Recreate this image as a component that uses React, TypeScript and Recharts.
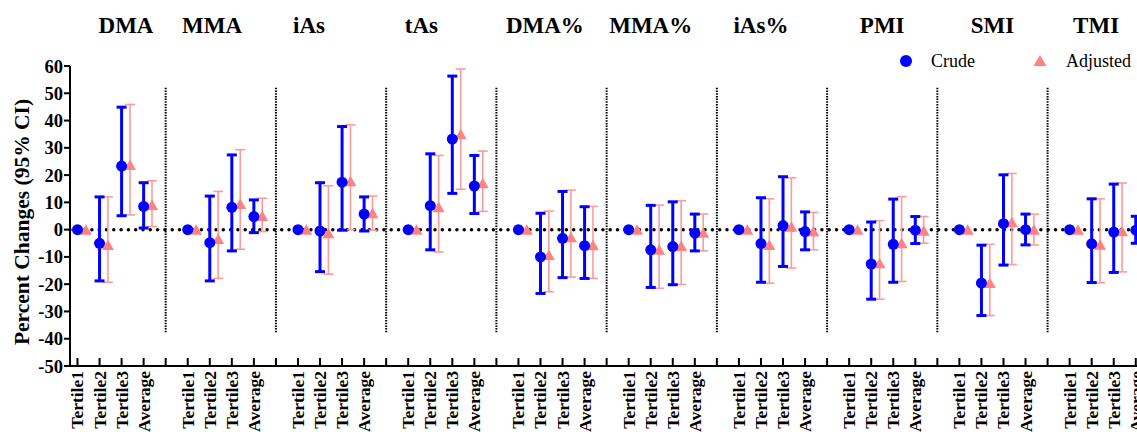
import {
  ComposedChart,
  ErrorBar,
  ReferenceDot,
  ReferenceLine,
  Scatter,
  XAxis,
  YAxis,
} from "recharts";

const groups = ["DMA", "MMA", "iAs", "tAs", "DMA%", "MMA%", "iAs%", "PMI", "SMI", "TMI"];
const levels = ["Tertile1", "Tertile2", "Tertile3", "Average"];

// per group: Tertile1, Tertile2, Tertile3, Average
const crudeEst = [
  [0, -5.0, 23.3, 8.5],
  [0, -4.8, 8.2, 4.8],
  [0, -0.5, 17.4, 5.7],
  [0, 8.8, 33.2, 16.0],
  [0, -10.0, -3.2, -5.9],
  [0, -7.4, -6.2, -1.3],
  [0, -5.1, 1.5, -0.7],
  [0, -12.6, -5.4, -0.2],
  [0, -19.6, 2.2, 0],
  [0, -5.2, -0.9, -0.2],
];
const crudeLow = [
  [null, -18.8, 5.1, 0.6],
  [null, -18.8, -7.8, -1.1],
  [null, -15.4, -0.2, -0.5],
  [null, -7.4, 13.3, 5.9],
  [null, -23.4, -17.6, -17.9],
  [null, -21.2, -20.2, -7.8],
  [null, -19.3, -13.5, -7.4],
  [null, -25.5, -19.3, -5.1],
  [null, -31.5, -13.0, -5.6],
  [null, -19.4, -15.7, -5.0],
];
const crudeHigh = [
  [null, 12.0, 44.9, 17.2],
  [null, 12.3, 27.4, 10.9],
  [null, 17.2, 37.8, 12.0],
  [null, 27.8, 56.3, 27.2],
  [null, 6.0, 14.0, 8.4],
  [null, 8.9, 10.2, 5.7],
  [null, 11.7, 19.4, 6.5],
  [null, 2.8, 11.2, 4.8],
  [null, -5.7, 20.1, 5.7],
  [null, 11.3, 16.7, 4.9],
];
const adjEst = [
  [0, -5.6, 23.7, 9.0],
  [0, -3.4, 9.4, 5.0],
  [0, -1.3, 17.7, 6.0],
  [0, 8.2, 35.0, 17.0],
  [0, -9.3, -2.8, -5.7],
  [0, -7.4, -6.0, -1.1],
  [0, -5.6, 1.1, -0.7],
  [0, -12.3, -5.0, -0.4],
  [0, -19.6, 2.7, 0],
  [0, -5.5, -0.6, -0.2],
];
const adjLow = [
  [null, -19.3, 5.4, 1.1],
  [null, -17.9, -7.2, -0.7],
  [null, -16.3, 0, -0.2],
  [null, -8.2, 14.8, 6.7],
  [null, -22.8, -17.4, -17.9],
  [null, -21.5, -20.1, -7.8],
  [null, -19.6, -14.1, -7.4],
  [null, -25.5, -19.0, -5.0],
  [null, -31.5, -12.8, -5.6],
  [null, -19.5, -15.5, -5.0],
];
const adjHigh = [
  [null, 12.0, 45.9, 17.9],
  [null, 14.0, 29.3, 11.5],
  [null, 16.1, 38.4, 12.3],
  [null, 27.2, 58.9, 28.8],
  [null, 6.8, 14.5, 8.5],
  [null, 9.0, 10.6, 5.7],
  [null, 11.3, 19.0, 6.3],
  [null, 3.3, 12.1, 4.8],
  [null, -5.4, 20.6, 5.7],
  [null, 11.3, 17.1, 4.9],
];

const yTicks = [-50, -40, -30, -20, -10, 0, 10, 20, 30, 40, 50, 60];

// layout
const SLOTS_PER_GROUP = 5;
const ADJ_SHIFT = 0.38;
const titleSlot = [2.2, 6.1, 10.5, 15.6, 21.2, 26.0, 31.0, 36.5, 41.5, 46.2];
const BLUE = "#0000ff";
const PINK = "#ff8282";
const FONT = "'Liberation Serif', 'Times New Roman', serif";

const slotLabels: string[] = [];
groups.forEach((_, g) => {
  levels.forEach((lv) => slotLabels.push(lv));
  if (g < groups.length - 1) slotLabels.push("");
});
const slotTicks = slotLabels.map((_, i) => i);
const separators = groups.slice(0, -1).map((_, g) => g * SLOTS_PER_GROUP + 4);

function buildRows(est: number[][], low: (number | null)[][], high: (number | null)[][], shift: number) {
  const rows: { x: number; y: number; err?: number[] }[] = [];
  groups.forEach((_, g) => {
    levels.forEach((_, i) => {
      const y = est[g][i];
      const lo = low[g][i];
      const hi = high[g][i];
      rows.push({
        x: g * SLOTS_PER_GROUP + i + shift,
        y,
        err: lo == null || hi == null ? undefined : [y - lo, hi - y],
      });
    });
  });
  return rows;
}

const crudeRows = buildRows(crudeEst, crudeLow, crudeHigh, 0);
const adjRows = buildRows(adjEst, adjLow, adjHigh, ADJ_SHIFT);

function SlotTick(props: any) {
  const { x, y, payload } = props;
  const label = slotLabels[payload.value] ?? "";
  return (
    <g>
      <line x1={x} x2={x} y1={y - 8} y2={y} stroke="#000" strokeWidth={2} />
      {label && (
        <text
          transform={`translate(${x},${y + 5}) rotate(-90)`}
          textAnchor="end"
          dominantBaseline="central"
          fontFamily={FONT}
          fontWeight="bold"
          fontSize={17.5}
          fill="#000"
        >
          {label}
        </text>
      )}
    </g>
  );
}

function Dot(props: any) {
  return <circle cx={props.cx} cy={props.cy} r={5.5} fill={BLUE} />;
}

function Tri(props: any) {
  const { cx, cy } = props;
  return (
    <polygon
      points={`${cx},${cy - 5.5} ${cx - 6},${cy + 5} ${cx + 6},${cy + 5}`}
      fill={PINK}
    />
  );
}

function YLabel() {
  return (
    <text
      transform="translate(22,222) rotate(-90)"
      textAnchor="middle"
      dominantBaseline="central"
      fontFamily={FONT}
      fontWeight="bold"
      fontSize={21.5}
      fill="#000"
    >
      Percent Changes (95% CI)
    </text>
  );
}

export default function App() {
  return (
    <div
      style={{
        position: "absolute",
        left: 0,
        top: 0,
        width: 1137,
        height: 432,
        overflow: "hidden",
        background: "#fff",
      }}
    >
      <ComposedChart
        width={1150}
        height={432}
        margin={{ top: 66, right: 1, bottom: 0, left: 0 }}
      >
        <XAxis
          type="number"
          dataKey="x"
          domain={[-0.34, 48.6]}
          allowDataOverflow
          ticks={slotTicks}
          interval={0}
          height={66}
          tickSize={0}
          tickMargin={0}
          tickLine={false}
          axisLine={{ stroke: "#000", strokeWidth: 2 }}
          tick={<SlotTick />}
        />
        <YAxis
          type="number"
          dataKey="y"
          domain={[-50, 60]}
          allowDataOverflow
          ticks={yTicks}
          interval={0}
          width={70}
          tickSize={6}
          tickMargin={1}
          axisLine={{ stroke: "#000", strokeWidth: 2 }}
          tickLine={{ stroke: "#000", strokeWidth: 2 }}
          tick={{ fill: "#000", fontFamily: FONT, fontWeight: "bold", fontSize: 18.5 }}
          label={<YLabel />}
        />
        {separators.map((s) => (
          <ReferenceLine
            key={s}
            segment={[
              { x: s, y: 52 },
              { x: s, y: -38 },
            ]}
            stroke="#000"
            strokeWidth={2}
            strokeDasharray="1.5 1.2"
          />
        ))}
        <ReferenceLine
          y={0}
          stroke="#000"
          strokeWidth={3.5}
          strokeDasharray="0 7.3"
          strokeLinecap="round"
        />
        {groups.map((name, g) => (
          <ReferenceDot
            key={name}
            x={titleSlot[g]}
            y={60}
            r={1}
            fill="none"
            stroke="none"
            label={{
              value: name,
              position: "top",
              offset: 32,
              fill: "#000",
              fontFamily: FONT,
              fontWeight: "bold",
              fontSize: 23,
            }}
          />
        ))}
        <Scatter data={adjRows} shape={<Tri />} isAnimationActive={false}>
          <ErrorBar
            dataKey="err"
            direction="y"
            width={5}
            stroke="#ff9a9a"
            strokeWidth={1.6}
            isAnimationActive={false}
          />
        </Scatter>
        <Scatter data={crudeRows} shape={<Dot />} isAnimationActive={false}>
          <ErrorBar
            dataKey="err"
            direction="y"
            width={5}
            stroke={BLUE}
            strokeWidth={3}
            isAnimationActive={false}
          />
        </Scatter>
      </ComposedChart>
      <div
        style={{
          position: "absolute",
          left: 898,
          top: 50,
          display: "flex",
          alignItems: "center",
          fontFamily: FONT,
          fontSize: 18,
          color: "#000",
        }}
      >
        <svg width={16} height={22}>
          <circle cx={8} cy={11} r={6} fill={BLUE} />
        </svg>
        <span style={{ marginLeft: 17 }}>Crude</span>
        <svg width={16} height={22} style={{ marginLeft: 57 }}>
          <polygon points="8,5 1.5,16 14.5,16" fill={PINK} />
        </svg>
        <span style={{ marginLeft: 18 }}>Adjusted</span>
      </div>
    </div>
  );
}
